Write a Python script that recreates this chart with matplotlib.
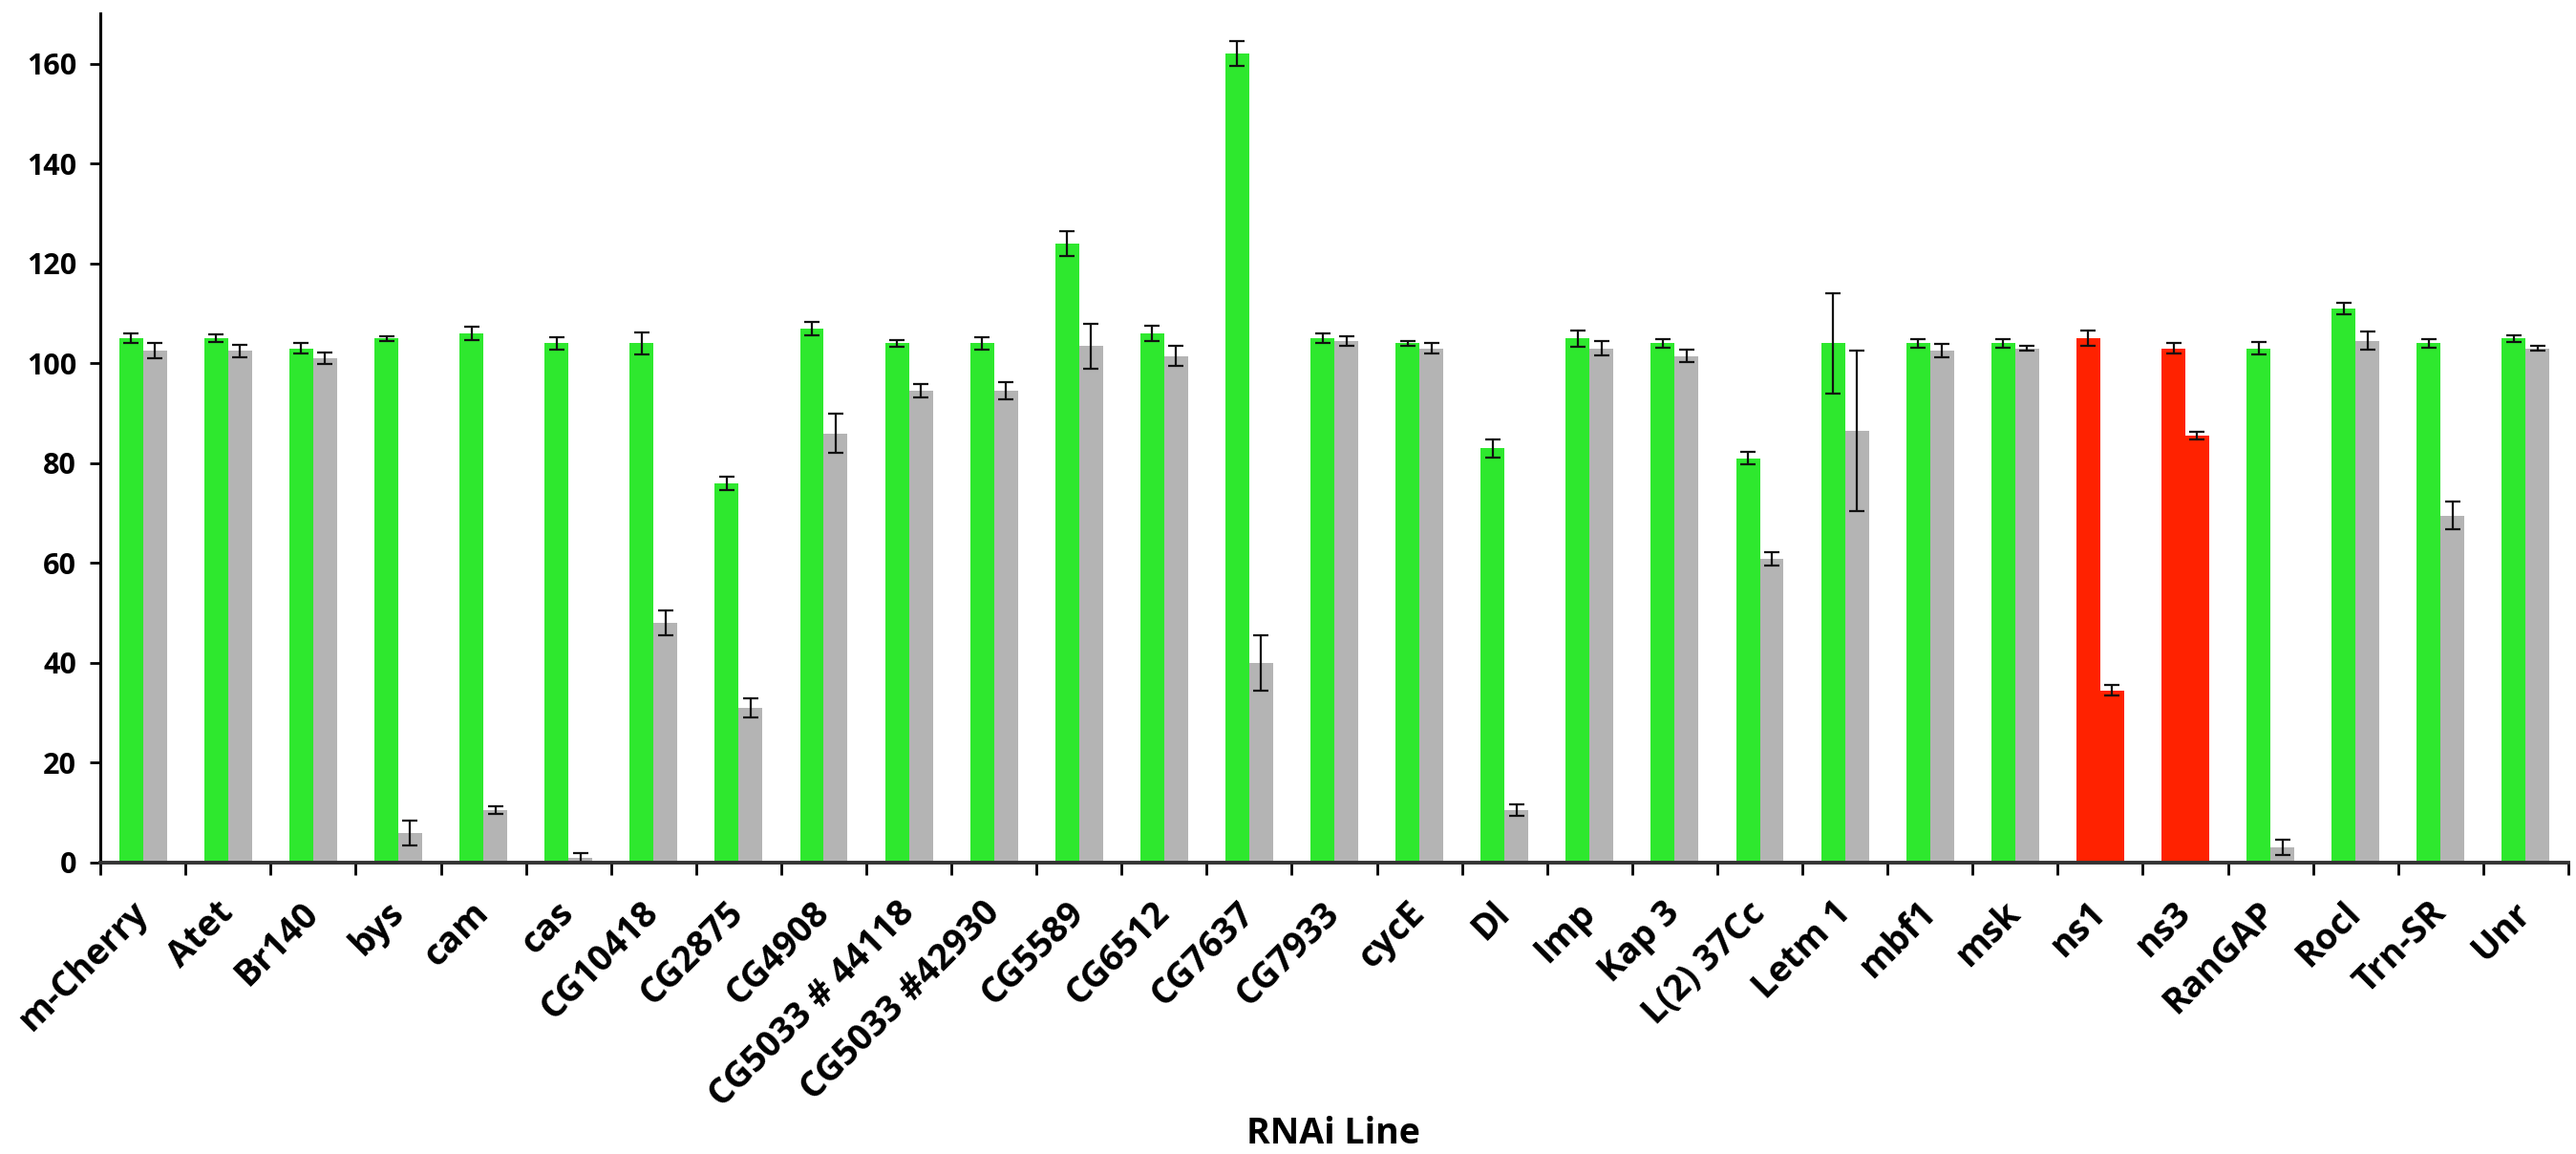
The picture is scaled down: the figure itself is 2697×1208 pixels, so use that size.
import numpy as np
import matplotlib
matplotlib.use("Agg")
import matplotlib.pyplot as plt

lines = ["m-Cherry", "Atet", "Br140", "bys", "cam", "cas", "CG10418", "CG2875",
         "CG4908", "CG5033 # 44118", "CG5033 #42930", "CG5589", "CG6512", "CG7637",
         "CG7933", "cycE", "Dl", "Imp", "Kap 3", "L(2) 37Cc", "Letm 1", "mbf1", "msk",
         "ns1", "ns3", "RanGAP", "Rocl", "Trn-SR", "Unr"]
first = [105, 105, 103, 105, 106, 104, 104, 76, 107, 104, 104, 124, 106, 162,
         105, 104, 83, 105, 104, 81, 104, 104, 104, 105, 103, 103, 111, 104, 105]
first_err = [1, 0.8, 1, 0.5, 1.3, 1.3, 2.2, 1.3, 1.3, 0.7, 1.3, 2.5, 1.5, 2.5,
             1, 0.5, 1.8, 1.6, 0.8, 1.2, 10, 0.8, 0.8, 1.5, 1, 1.3, 1.2, 0.8, 0.7]
second = [102.5, 102.5, 101, 6, 10.5, 1, 48, 31, 86, 94.5, 94.5, 103.5, 101.5, 40,
          104.5, 103, 10.5, 103, 101.5, 60.8, 86.5, 102.5, 103, 34.5, 85.5, 3, 104.5, 69.5, 103]
second_err = [1.5, 1.2, 1.2, 2.5, 0.7, 1, 2.5, 2, 4, 1.3, 1.7, 4.5, 2, 5.5,
              1, 1, 1.2, 1.4, 1.2, 1.3, 16, 1.3, 0.5, 1, 0.8, 1.5, 1.8, 2.8, 0.5]
highlight = ["ns1", "ns3"]

green = "#2ee82e"
gray = "#b4b4b4"
red = "#ff2200"

plt.rcParams['font.family'] = ['Open Sans', 'DejaVu Sans']

fig = plt.figure(figsize=(26.97, 12.08), dpi=100)
ax = fig.add_axes([0.039, 0.2525, 0.958, 0.7355])

x = np.arange(len(lines))
w = 0.28
c1 = [red if n in highlight else green for n in lines]
c2 = [red if n in highlight else gray for n in lines]
ek = dict(elinewidth=1.6, capthick=1.6, ecolor="#111111")
ax.bar(x - w / 2, first, w, color=c1, yerr=first_err, capsize=6, error_kw=ek)
ax.bar(x + w / 2, second, w, color=c2, yerr=second_err, capsize=6, error_kw=ek)

ax.set_xlim(-0.5, len(lines) - 0.5)
ax.set_ylim(0, 170)
ax.set_yticks(range(0, 161, 20))
ax.set_xticks(x)
ax.set_xticklabels(lines, rotation=45, ha="right", va="center", rotation_mode="anchor",
                   fontsize=27, fontweight="bold")
ax.set_xticks(np.arange(len(lines) + 1) - 0.5, minor=True)
ax.tick_params(axis="x", which="major", length=0, pad=34)
ax.tick_params(axis="x", which="minor", length=9, width=2, direction="out")
ax.tick_params(axis="y", length=8, width=2, labelsize=22, pad=10)
for t in ax.get_yticklabels():
    t.set_fontweight("bold")

ax.spines["top"].set_visible(False)
ax.spines["right"].set_visible(False)
ax.spines["left"].set_linewidth(2.2)
ax.spines["bottom"].set_linewidth(2.8)
ax.spines["bottom"].set_color("#333333")

fig.text(0.5176, 0.0174, "RNAi Line", fontsize=27, fontweight="bold",
         ha="center", va="center")

fig.savefig("out.png", dpi=100)
